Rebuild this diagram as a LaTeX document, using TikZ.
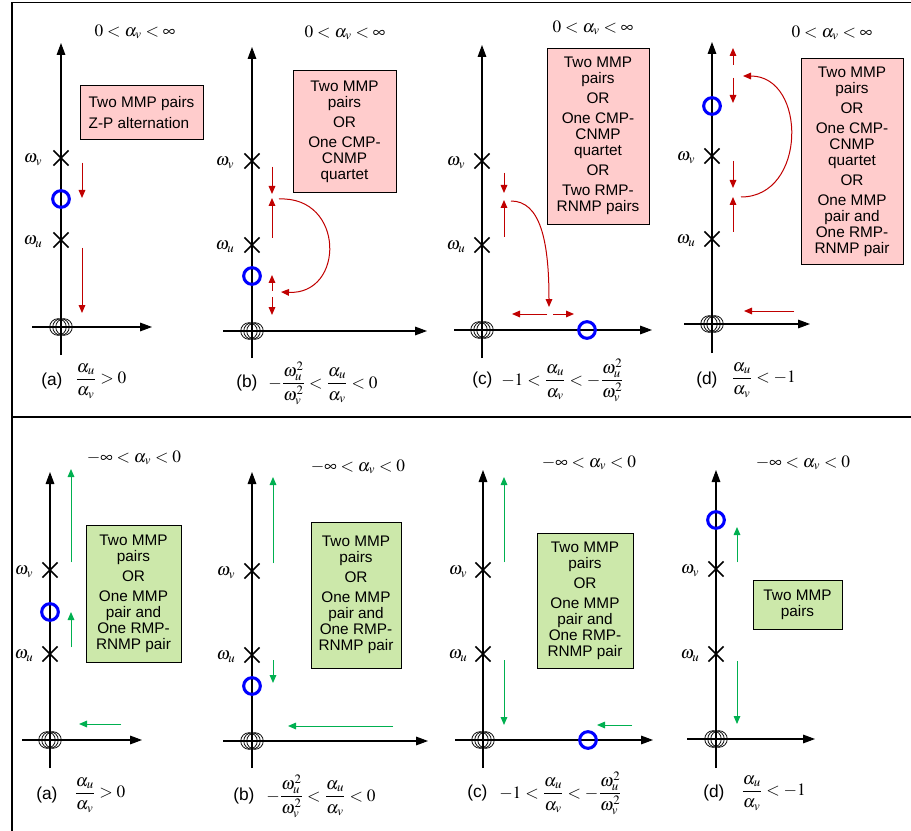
\documentclass[tikz,border=0pt]{standalone}
\usepackage{amsmath}
\usepackage{mathptmx}
\usepackage{fontspec}
\setmainfont{Liberation Sans}
\usetikzlibrary{arrows.meta,shapes.misc}
\definecolor{myred}{RGB}{192,0,0}
\definecolor{mygreen}{RGB}{0,176,80}
\definecolor{mypink}{RGB}{255,204,204}
\definecolor{mylgreen}{RGB}{204,232,170}
\newcommand{\pzorigin}[2]{\foreach \dx in {-3,0,3}{\draw[line width=0.6pt] (#1+\dx,#2) circle[radius=6.2pt];}}
\tikzset{
  axis/.style={line width=0.8pt,-{Triangle[length=9pt,width=6.5pt]}},
  xpole/.style={cross out,draw,line width=1.3pt,minimum size=10pt,inner sep=0pt},
  zero/.style={circle,draw=blue,line width=2.3pt,minimum size=12.5pt,inner sep=0pt},
  redarr/.style={draw=myred,line width=0.75pt,-{Triangle[length=6pt,width=5pt]},fill=myred},
  grnarr/.style={draw=mygreen,line width=0.75pt,-{Triangle[length=6pt,width=5pt]},fill=mygreen},
  boxtxt/.style={draw,line width=0.5pt,align=center,inner sep=0pt,font=\fontsize{11.5}{12}\selectfont},
  pinkbox/.style={boxtxt,fill=mypink},
  grnbox/.style={boxtxt,fill=mylgreen},
  wlab/.style={font=\fontsize{13}{15}\selectfont,inner sep=0pt},
  ttl/.style={font=\fontsize{13}{15}\selectfont,inner sep=0pt},
  capl/.style={font=\fontsize{13}{15}\selectfont,anchor=west,inner sep=0pt},
  capm/.style={font=\fontsize{13}{15}\selectfont,anchor=west,inner sep=0pt},
  frame/.style={line width=1.4pt}
}
\begin{document}
\begin{tikzpicture}[x=0.75pt,y=-0.75pt]
\useasboundingbox (0,0) rectangle (911,831);
% frame
\draw[frame] (12,831) -- (12,2.5) -- (911,2.5);
\draw[frame] (12,417) -- (911,417);

% ================= TOP (a) =================
\draw[axis] (61,355) -- (61,43);
\draw[axis] (32,327) -- (152,327);
\pzorigin{61}{327}
\node[xpole] (ta_v) at (61,158) {};
\node[xpole] (ta_u) at (61,240) {};
\node[zero] (ta_z) at (61,199) {};
\node[wlab] (ta_lv) at (33,160) {$\omega_v$};
\node[wlab] (ta_lu) at (33,242) {$\omega_u$};
\node[ttl] (ta_t) at (135,32) {$0<\alpha_v<\infty$};
\node[pinkbox,minimum width=92pt,minimum height=40pt,align=left] (ta_b) at (141.5,112.5) {Two MMP pairs\\[4pt]Z-P alternation};
\draw[redarr] (82,163) -- (82,198);
\draw[redarr] (82,248) -- (82,313);
\node[capl] (ta_c) at (41,381) {(a)};
\node[capm] (ta_m) at (75,381) {$\displaystyle\frac{\alpha_u}{\alpha_v}>0$};

% ================= TOP (b) =================
\draw[axis] (252,358) -- (252,47);
\draw[axis] (223,331) -- (427,331);
\pzorigin{252}{331}
\node[xpole] (tb_v) at (252,161) {};
\node[xpole] (tb_u) at (252,245) {};
\node[zero] (tb_z) at (252,276) {};
\node[wlab] (tb_lv) at (225,163) {$\omega_v$};
\node[wlab] (tb_lu) at (225,247) {$\omega_u$};
\node[ttl] (tb_t) at (345,33) {$0<\alpha_v<\infty$};
\node[pinkbox,minimum width=77pt,minimum height=91pt] (tb_b) at (344.5,131.5) {Two MMP\\pairs\\[3pt]OR\\[3pt]One CMP-\\CNMP\\quartet};
\draw[redarr] (272,167) -- (272,194);
\draw[redarr] (272,238) -- (272,198);
\draw[redarr] (272,291) -- (272,275);
\draw[redarr] (272,297) -- (272,315);
\draw[redarr,fill=none] (279,199) .. controls (345,196) and (345,295) .. (281,292);
\node[capl] (tb_c) at (236,383) {(b)};
\node[capm] (tb_m) at (268,383) {$\displaystyle -\frac{\omega_u^2}{\omega_v^2}<\frac{\alpha_u}{\alpha_v}<0$};

% ================= TOP (c) =================
\draw[axis] (482,358) -- (482,45);
\draw[axis] (454,330) -- (652,330);
\pzorigin{482}{330}
\node[xpole] (tc_v) at (482,161) {};
\node[xpole] (tc_u) at (482,245) {};
\node[zero] (tc_z) at (587,330) {};
\node[wlab] (tc_lv) at (456,163) {$\omega_v$};
\node[wlab] (tc_lu) at (456,247) {$\omega_u$};
\node[ttl] (tc_t) at (593,28) {$0<\alpha_v<\infty$};
\node[pinkbox,minimum width=76.5pt,minimum height=132pt] (tc_b) at (598,136) {Two MMP\\pairs\\[3pt]OR\\[3pt]One CMP-\\CNMP\\quartet\\[3pt]OR\\[3pt]Two RMP-\\RNMP pairs};
\draw[redarr] (504,173) -- (504,193);
\draw[redarr] (504,237) -- (504,200);
\draw[redarr,fill=none] (511,201) .. controls (540,201) and (549,240) .. (549,307);
\draw[redarr] (547,314) -- (512,314);
\draw[redarr] (553,314) -- (574,314);
\node[capl] (tc_c) at (472,380) {(c)};
\node[capm] (tc_m) at (501,380) {$\displaystyle -1<\frac{\alpha_u}{\alpha_v}<-\frac{\omega_u^2}{\omega_v^2}$};

% ================= TOP (d) =================
\draw[axis] (712,353) -- (712,42);
\draw[axis] (684,324) -- (810,324);
\pzorigin{712}{324}
\node[xpole] (td_v) at (712,156) {};
\node[xpole] (td_u) at (712,239) {};
\node[zero] (td_z) at (712,106) {};
\node[wlab] (td_lv) at (686,158) {$\omega_v$};
\node[wlab] (td_lu) at (686,241) {$\omega_u$};
\node[ttl] (td_t) at (832,33) {$0<\alpha_v<\infty$};
\node[pinkbox,minimum width=76.5pt,minimum height=154pt] (td_b) at (852,161.5) {Two MMP\\pairs\\[3pt]OR\\[3pt]One CMP-\\CNMP\\quartet\\[3pt]OR\\[3pt]One MMP\\pair and\\One RMP-\\RNMP pair};
\draw[redarr] (733,65) -- (733,48);
\draw[redarr] (733,78) -- (733,103);
\draw[redarr] (733,161) -- (733,188);
\draw[redarr] (733,232) -- (733,197);
\draw[redarr,fill=none] (741,197) .. controls (807,197) and (807,76) .. (743,76);
\draw[redarr] (794,311) -- (744,311);
\node[capl] (td_c) at (696,380) {(d)};
\node[capm] (td_m) at (731,380) {$\displaystyle \frac{\alpha_u}{\alpha_v}<-1$};

% ================= BOTTOM (a) =================
\draw[axis] (50,768) -- (50,472);
\draw[axis] (22,740) -- (142,740);
\pzorigin{50}{740}
\node[xpole] (ba_v) at (50,570) {};
\node[xpole] (ba_u) at (50,654) {};
\node[zero] (ba_z) at (50,612) {};
\node[wlab] (ba_lv) at (24,572) {$\omega_v$};
\node[wlab] (ba_lu) at (24,656) {$\omega_u$};
\node[ttl] (ba_t) at (134,458) {$-\infty<\alpha_v<0$};
\node[grnbox,minimum width=71pt,minimum height=103pt] (ba_b) at (133.5,593.5) {Two MMP\\pairs\\[3pt]OR\\[3pt]One MMP\\pair and\\One RMP-\\RNMP pair};
\draw[grnarr] (71,562) -- (71,469);
\draw[grnarr] (71,647) -- (71,612);
\draw[grnarr] (121,724) -- (79,724);
\node[capl] (ba_c) at (36,795) {(a)};
\node[capm] (ba_m) at (74,795) {$\displaystyle\frac{\alpha_u}{\alpha_v}>0$};

% ================= BOTTOM (b) =================
\draw[axis] (252,768) -- (252,472);
\draw[axis] (223,741) -- (428,741);
\pzorigin{252}{741}
\node[xpole] (bb_v) at (252,571) {};
\node[xpole] (bb_u) at (252,655) {};
\node[zero] (bb_z) at (252,686) {};
\node[wlab] (bb_lv) at (226,573) {$\omega_v$};
\node[wlab] (bb_lu) at (226,657) {$\omega_u$};
\node[ttl] (bb_t) at (358,467) {$-\infty<\alpha_v<0$};
\node[grnbox,minimum width=67.5pt,minimum height=109.5pt] (bb_b) at (356,595) {Two MMP\\pairs\\[3pt]OR\\[3pt]One MMP\\pair and\\One RMP-\\RNMP pair};
\draw[grnarr] (273,563) -- (273,477);
\draw[grnarr] (273,660) -- (273,683);
\draw[grnarr] (393,726) -- (288,726);
\node[capl] (bb_c) at (233,796) {(b)};
\node[capm] (bb_m) at (266,796) {$\displaystyle -\frac{\omega_u^2}{\omega_v^2}<\frac{\alpha_u}{\alpha_v}<0$};

% ================= BOTTOM (c) =================
\draw[axis] (483,768) -- (483,470);
\draw[axis] (455,740) -- (653,740);
\pzorigin{483}{740}
\node[xpole] (bc_v) at (483,570) {};
\node[xpole] (bc_u) at (483,654) {};
\node[zero] (bc_z) at (588,740) {};
\node[wlab] (bc_lv) at (458,572) {$\omega_v$};
\node[wlab] (bc_lu) at (458,656) {$\omega_u$};
\node[ttl] (bc_t) at (589,463) {$-\infty<\alpha_v<0$};
\node[grnbox,minimum width=72pt,minimum height=101pt] (bc_b) at (585,600.5) {Two MMP\\pairs\\[3pt]OR\\[3pt]One MMP\\pair and\\One RMP-\\RNMP pair};
\draw[grnarr] (504,562) -- (504,477);
\draw[grnarr] (504,660) -- (504,725);
\draw[grnarr] (632,725) -- (597,725);
\node[capl] (bc_c) at (467,793) {(c)};
\node[capm] (bc_m) at (499,793) {$\displaystyle -1<\frac{\alpha_u}{\alpha_v}<-\frac{\omega_u^2}{\omega_v^2}$};

% ================= BOTTOM (d) =================
\draw[axis] (716,768) -- (716,470);
\draw[axis] (687,739) -- (815,739);
\pzorigin{716}{739}
\node[xpole] (bd_v) at (716,569) {};
\node[xpole] (bd_u) at (716,654) {};
\node[zero] (bd_z) at (716,520) {};
\node[wlab] (bd_lv) at (690,571) {$\omega_v$};
\node[wlab] (bd_lu) at (690,656) {$\omega_u$};
\node[ttl] (bd_t) at (803,463) {$-\infty<\alpha_v<0$};
\node[grnbox,minimum width=67pt,minimum height=37pt] (bd_b) at (797.5,604.5) {Two MMP\\pairs};
\draw[grnarr] (737,562) -- (737,527);
\draw[grnarr] (737,661) -- (737,724);
\node[capl] (bd_c) at (703,793) {(d)};
\node[capm] (bd_m) at (741,793) {$\displaystyle \frac{\alpha_u}{\alpha_v}<-1$};
\end{tikzpicture}
\end{document}
